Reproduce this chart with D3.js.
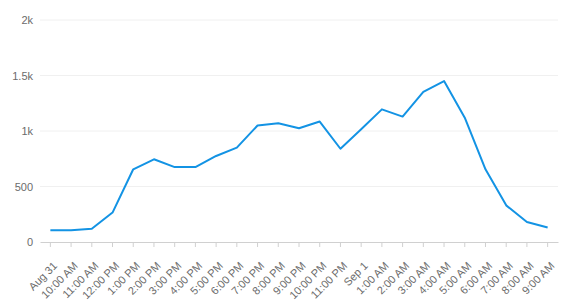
<!DOCTYPE html>
<html>
<head>
<script src="https://d3js.org/d3.v7.min.js"></script>
<style>
  body { margin: 0; background: #fff; }
  .tick text { font-family: "Liberation Sans", Arial, sans-serif; font-size: 11px; fill: #6b6b6b; }
  .line { fill: none; stroke: #1393e4; stroke-width: 2px; stroke-linejoin: round; }
</style>
</head>
<body>
<div id="chart"></div>
<script>
// hourly counts, Aug 31 9 AM through Sep 1 9 AM
const labels = ["Aug 31", "10:00 AM", "11:00 AM", "12:00 PM", "1:00 PM", "2:00 PM", "3:00 PM",
  "4:00 PM", "5:00 PM", "6:00 PM", "7:00 PM", "8:00 PM", "9:00 PM", "10:00 PM", "11:00 PM",
  "Sep 1", "1:00 AM", "2:00 AM", "3:00 AM", "4:00 AM", "5:00 AM", "6:00 AM", "7:00 AM",
  "8:00 AM", "9:00 AM"];
const values = [105, 105, 120, 265, 655, 745, 675, 675, 775, 850, 1050, 1070, 1025, 1085, 840,
  1015, 1195, 1130, 1352, 1450, 1120, 655, 330, 180, 130];
const yTicks = [0, 500, 1000, 1500, 2000];
const yTickLabels = ["0", "500", "1k", "1.5k", "2k"];

const W = 563, H = 304;
const margin = {top: 20, right: 5, bottom: 62, left: 40};
const width = W - margin.left - margin.right,
      height = H - margin.top - margin.bottom;

const svg = d3.select("#chart").append("svg")
  .attr("width", W).attr("height", H)
  .append("g")
  .attr("transform", "translate(" + margin.left + "," + margin.top + ")");

const x = d3.scaleBand().domain(labels).range([0, width]);
const y = d3.scaleLinear().domain([0, 2000]).range([height, 0]);
const cx = d => x(d) + x.bandwidth() / 2;

// gridlines
svg.append("g")
  .selectAll("line")
  .data(yTicks.slice(1))
  .enter().append("line")
  .attr("x1", 0).attr("x2", width)
  .attr("y1", d => y(d)).attr("y2", d => y(d))
  .attr("stroke", "#f0f0f0").attr("stroke-width", 1);

// y axis labels
const yAxis = svg.append("g")
  .call(d3.axisLeft(y).tickValues(yTicks).tickFormat((d, i) => yTickLabels[i]).tickSize(0).tickPadding(7));
yAxis.select(".domain").remove();

// x axis
const xAxis = svg.append("g")
  .attr("transform", "translate(0," + height + ")")
  .call(d3.axisBottom(x).tickSize(5).tickSizeOuter(0));
xAxis.select(".domain").attr("stroke", "#d0d0d0");
xAxis.selectAll(".tick line").attr("stroke", "#d0d0d0");
xAxis.selectAll(".tick text")
  .attr("text-anchor", "end")
  .attr("x", 0).attr("y", 0).attr("dy", 0)
  .attr("transform", "translate(7.5,24.5) rotate(-45)");

// line
const line = d3.line()
  .x((d, i) => cx(labels[i]))
  .y(d => y(d));

svg.append("path")
  .datum(values)
  .attr("class", "line")
  .attr("d", line);
</script>
</body>
</html>
